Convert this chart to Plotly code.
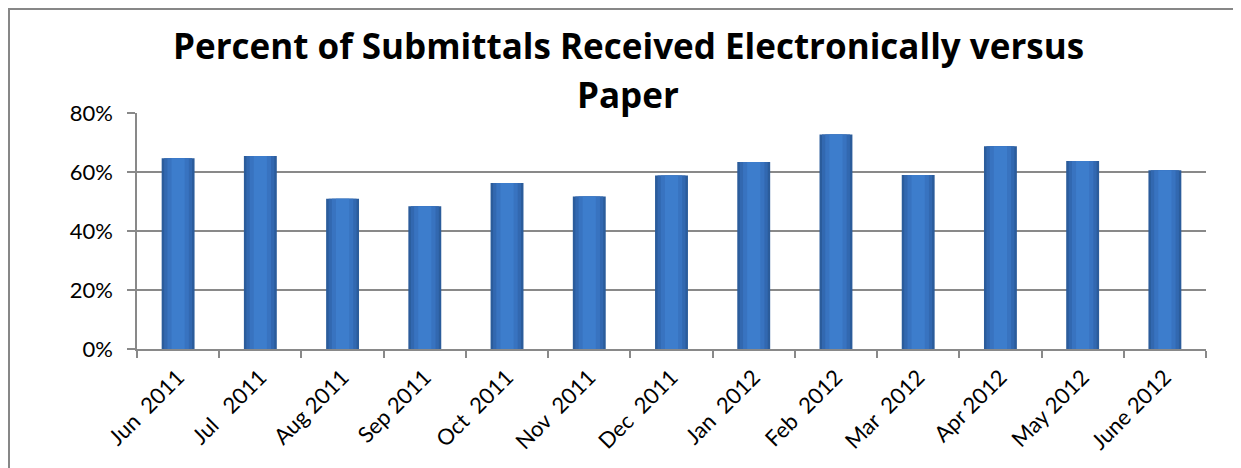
import plotly.graph_objects as go

months = ["Jun  2011", "Jul   2011", "Aug 2011", "Sep 2011", "Oct  2011", "Nov  2011",
          "Dec  2011", "Jan  2012", "Feb  2012", "Mar  2012", "Apr 2012", "May 2012", "June 2012"]
pct_electronic = [64.7, 65.4, 50.9, 48.4, 56.3, 51.7, 58.8, 63.4, 72.7, 59.0, 68.7, 63.7, 60.6]
y_ticks = [0, 20, 40, 60, 80]
y_tick_labels = ["0%", "20%", "40%", "60%", "80%"]
title_line1 = "Percent of Submittals Received Electronically versus"
title_line2 = "Paper"

# the page body adds an 8px offset, so the figure is sized/placed accordingly
W, H = 1233, 460
L, R, T, B = 129, 35, 105, 119
pw, ph = W - L - R, H - T - B

def px_x(p):
    return (p - L) / pw

def px_y(p):
    return (H - B - p) / ph

fig = go.Figure()
# layered bars to suggest the shaded cylinder-like look of the original
for w, c in [(0.40, "#2b5c9b"), (0.34, "#3268b0"), (0.26, "#3873c0"), (0.16, "#3d7dcc")]:
    fig.add_trace(go.Bar(
        x=months, y=pct_electronic, width=w,
        marker=dict(color=c, line=dict(width=0)),
        hoverinfo="skip" if w != 0.40 else None,
    ))

axis_gray = "#898989"
fig.update_layout(
    width=W, height=H,
    margin=dict(l=L, r=R, t=T, b=B, autoexpand=False),
    paper_bgcolor="white", plot_bgcolor="white",
    showlegend=False,
    barmode="overlay",
    font=dict(family="Lato, Open Sans, sans-serif", size=22, color="black"),
    xaxis=dict(
        type="category",
        tickangle=-45,
        tickson="boundaries",
        ticks="outside", ticklen=7, tickcolor=axis_gray, tickwidth=1.5,
        showline=True, linecolor=axis_gray, linewidth=1.5,
        showgrid=False,
        ticklabelstandoff=5,
        tickfont=dict(size=22),
    ),
    yaxis=dict(
        range=[0, 80],
        tickvals=y_ticks, ticktext=y_tick_labels,
        ticks="outside", ticklen=8, tickcolor=axis_gray, tickwidth=1.5,
        showline=True, linecolor=axis_gray, linewidth=1.5,
        showgrid=True, gridcolor=axis_gray, gridwidth=1.5,
        zeroline=False,
        ticklabelstandoff=10,
        tickfont=dict(size=22),
    ),
    annotations=[
        dict(text="<b>" + title_line1 + "</b>", xref="paper", yref="paper",
             x=px_x(620), y=px_y(37), xanchor="center", yanchor="middle",
             showarrow=False, font=dict(family="Open Sans, sans-serif", size=35, color="black")),
        dict(text="<b>" + title_line2 + "</b>", xref="paper", yref="paper",
             x=px_x(620), y=px_y(86), xanchor="center", yanchor="middle",
             showarrow=False, font=dict(family="Open Sans, sans-serif", size=35, color="black")),
    ],
    shapes=[dict(
        type="rect", xref="paper", yref="paper",
        x0=px_x(1), x1=px_x(1229), y0=px_y(480), y1=px_y(1),
        line=dict(color="#878787", width=2), fillcolor="rgba(0,0,0,0)", layer="below",
    )],
)

fig.write_html("out.html")
